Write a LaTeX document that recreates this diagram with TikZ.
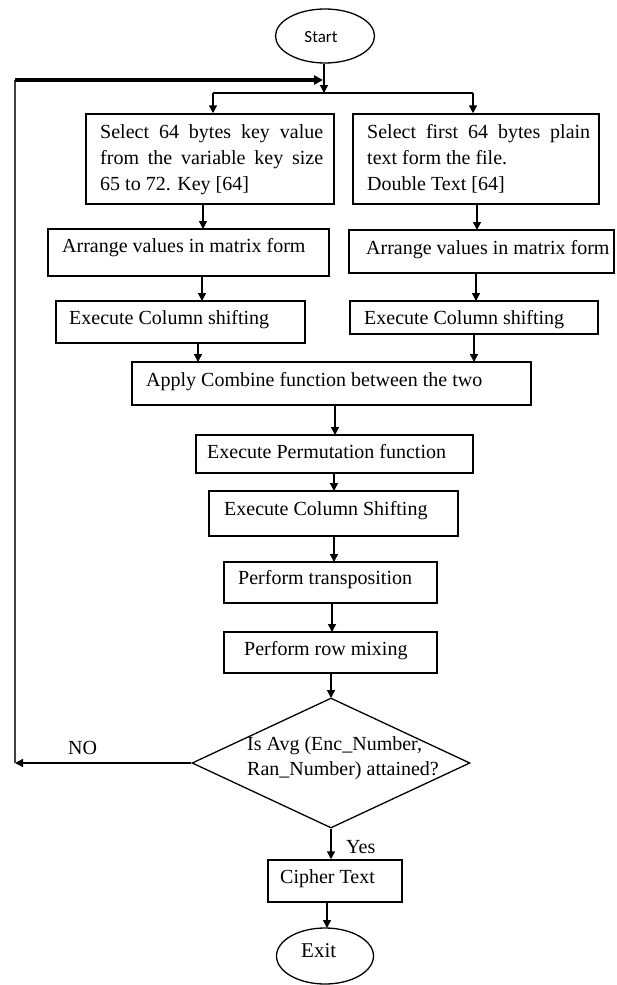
\documentclass[tikz,border=0pt]{standalone}
\usepackage{fontspec}
\setmainfont{Liberation Serif}
\newfontfamily\calib{Carlito}
\usetikzlibrary{arrows.meta,shapes.geometric,calc}

\tikzset{
  box/.style={draw=black, line width=1.5pt, rectangle, inner sep=0pt, fill=white},
  oval/.style={draw=black, line width=1.3pt, ellipse, inner sep=0pt},
  decide/.style={draw=black, line width=1.3pt, diamond, inner sep=0pt},
  txt/.style={inner sep=0pt, anchor=base west, font=\fontsize{20}{26}\selectfont, text=black},
  flow/.style={line width=1.5pt, -{Triangle[length=8pt,width=8pt]}},
  plain/.style={line width=1.5pt},
}
% one justified line of a box text
\newcommand{\jline}[1]{\hbox{\makebox[223pt][s]{#1}}}
\newcommand{\nline}[1]{\hbox{#1}}

\begin{document}
\begin{tikzpicture}[x=1pt,y=-1pt]
\useasboundingbox[fill=white] (0,0) rectangle (617,985);

% terminals
\node[oval, minimum width=99pt, minimum height=54pt] (start) at (325,36) {};
\node[inner sep=0pt, font=\calib\fontsize{17}{20}\selectfont] (startt) at (321,37) {Start};

\node[oval, minimum width=97pt, minimum height=56pt] (exit) at (325,956) {};
\node[txt, font=\fontsize{21}{26}\selectfont] (exitt) at (301,957) {Exit};

% key branch
\node[box, minimum width=248pt, minimum height=90pt] (k1) at (210,159) {};
\node[txt] (k1t) at (100,138) {\vtop{\jline{Select 64 bytes key value}\jline{from the variable key size}\nline{65 to 72. Key [64]}}};
\node[box, minimum width=281pt, minimum height=47pt] (k2) at (188.5,252.5) {};
\node[txt] (k2t) at (62,252) {Arrange values in matrix form};
\node[box, minimum width=249pt, minimum height=42pt] (k3) at (180.5,322) {};
\node[txt] (k3t) at (69,324) {Execute Column shifting};

% text branch
\node[box, minimum width=246pt, minimum height=90pt] (p1) at (476,159) {};
\node[txt] (p1t) at (367,138) {\vtop{\jline{Select first 64 bytes plain}\nline{text form the file.}\nline{Double Text [64]}}};
\node[box, minimum width=265pt, minimum height=43pt] (p2) at (481.5,251.5) {};
\node[txt] (p2t) at (366,254) {Arrange values in matrix form};
\node[box, minimum width=248pt, minimum height=33pt] (p3) at (474,317.5) {};
\node[txt] (p3t) at (364,324) {Execute Column shifting};

% common part
\node[box, minimum width=399pt, minimum height=43pt] (comb) at (331.5,383.5) {};
\node[txt] (combt) at (146,386) {Apply Combine function between the two};
\node[box, minimum width=277pt, minimum height=38pt] (perm) at (334.5,454) {};
\node[txt] (permt) at (207,458) {Execute Permutation function};
\node[box, minimum width=249pt, minimum height=45pt] (colsh) at (333.5,513.5) {};
\node[txt] (colsht) at (224,515) {Execute Column Shifting};
\node[box, minimum width=213pt, minimum height=41pt] (trans) at (330.5,582.5) {};
\node[txt] (transt) at (238,584) {Perform transposition};
\node[box, minimum width=213pt, minimum height=41pt] (rowmix) at (330.5,652.5) {};
\node[txt] (rowmixt) at (244,655) {Perform row mixing};

\node[decide, minimum width=278pt, minimum height=130pt] (dec) at (331,763) {};
\node[txt] (dect) at (247,750) {\vtop{\baselineskip=25pt\nline{Is Avg (Enc\_Number,}\nline{Ran\_Number) attained?}}};

\node[box, minimum width=134pt, minimum height=42pt] (ciph) at (335,881) {};
\node[txt] (cipht) at (280,883) {Cipher Text};

\node[txt] (no) at (68,754) {NO};
\node[txt] (yes) at (346,853) {Yes};

% fork below the start terminal
\coordinate (fork) at (324,93);
\coordinate (forkL) at (213,93);
\coordinate (forkR) at (473,93);
\draw[flow] (start.south -| fork) -- (fork);
\draw[plain] (forkL) -- (forkR);
\draw[flow] (forkL) -- (forkL |- k1.north);
\draw[flow] (forkR) -- (forkR |- p1.north);

% two parallel columns
\draw[flow] (203,204) -- (203,229);
\draw[flow] (477,204) -- (477,230);
\draw[flow] (202,276) -- (202,301);
\draw[flow] (476,273) -- (476,301);
\draw[flow] (198,343) -- (198,362);
\draw[flow] (474,334) -- (474,362);

% main column
\draw[flow] (335,405) -- (335,435);
\draw[flow] (334,473) -- (334,491);
\draw[flow] (334,536) -- (334,562);
\draw[flow] (332,603) -- (332,632);
\draw[flow] (331,673) -- (331,698);
\draw[flow] (dec.south) -- (dec.south |- ciph.north);
\draw[flow] (327,902) -- (327,928);

% loop back for another round
\coordinate (loopB) at (15,763);
\coordinate (loopT) at (15,80);
\coordinate (loopE) at (323,80);
\draw[flow] (dec.west) -- (loopB);
\draw[line width=2pt, black!75] (loopB) -- (loopT);
\draw[line width=3.5pt, -{Triangle[length=9pt,width=9pt]}] (loopT) -- (loopE);
\end{tikzpicture}
\end{document}
